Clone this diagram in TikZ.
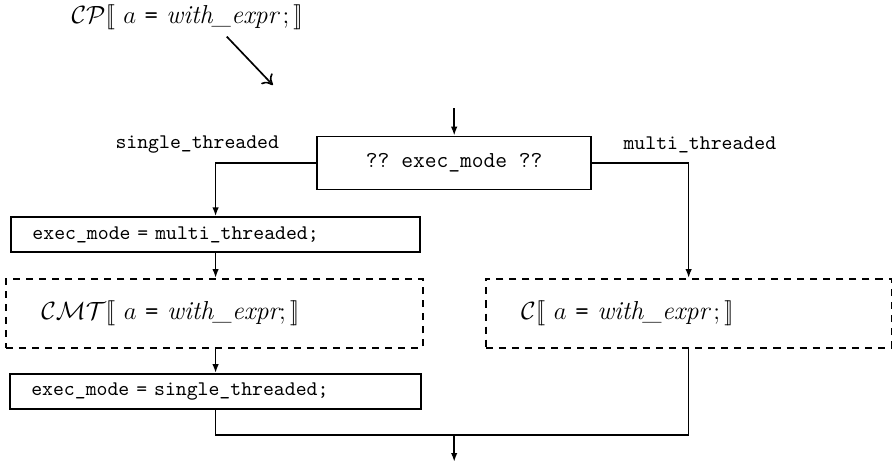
\documentclass[tikz,border=0pt]{standalone}
\usepackage{amsmath}
\usepackage{amssymb}
\usepackage{tikz}
\usetikzlibrary{arrows.meta, positioning, calc}
\frenchspacing

\begin{document}
\begin{tikzpicture}[
    flow/.style={thick, -{Latex[length=1.5mm, width=1.1mm]}},
    wire/.style={thick},
    stmt/.style={draw, thick, font=\ttfamily, align=left, inner xsep=0.36cm,
                 inner ysep=0pt, minimum height=0.59cm},
    body/.style={draw, thick, dash pattern=on 3.4pt off 2.9pt, align=left,
                 inner xsep=0.6cm, inner ysep=0pt, minimum height=1.17cm,
                 font=\fontsize{12.5}{14}\selectfont},
    branch/.style={font=\ttfamily}
  ]
      \useasboundingbox (0,0) rectangle (15.12,7.87);

      % Translation scheme
      \node[font=\fontsize{12.5}{14}\selectfont] (scheme) at (3.17,7.58)
           {$\mathcal{CP}[\![\ a\ \texttt{=}\ \textit{with\_expr}\,;]\!]$};
      \coordinate (schemefrom) at (3.84,7.25);
      \coordinate (schemeto) at (4.62,6.43);
      \draw[thick, -{To[length=1.6mm, width=2.6mm]}] (schemefrom) -- (schemeto);

      % Test of the mode
      \coordinate (entry) at (7.69,6.04);
      \node[draw, thick, minimum width=4.64cm, minimum height=0.90cm,
            font=\ttfamily\fontsize{11}{13}\selectfont]
           (test) at (7.69,5.11) {?? exec\_mode ??};
      \draw[flow] (entry) -- (test.north);

      \node[branch] (stlabel) at (3.34,5.42) {single\_threaded};
      \node[branch] (mtlabel) at (11.85,5.42) {multi\_threaded};

      % Single threaded branch
      \node[stmt, text width=6.20cm] (setmt) at (3.65,3.90)
           {exec\_mode = multi\_threaded;};
      \node[body, text width=5.86cm] (cmt) at (3.63,2.565)
           {$\mathcal{CMT}[\![\ a\ \texttt{=}\ \textit{with\_expr};]\!]$};
      \node[stmt, text width=6.24cm] (setst) at (3.65,1.245)
           {exec\_mode = single\_threaded;};

      % Multi threaded branch
      \node[body, text width=5.67cm] (plain) at (11.66,2.565)
           {$\mathcal{C}[\![\ a\ \texttt{=}\ \textit{with\_expr}\,;]\!]$};

      \coordinate (join) at (7.69,0.50);
      \coordinate (exit) at (7.69,0.05);

      % Connectors
      \draw[flow] (test.west) -| (setmt.north);
      \draw[flow] (test.east) -| (plain.north);
      \draw[flow] (setmt.south) -- (setmt.south |- cmt.north);
      \draw[flow] (cmt.south -| setmt.south) -- (setst.north);
      \draw[wire] (setst.south) |- (join);
      \draw[wire] (plain.south) |- (join);
      \draw[flow] (join) -- (exit);
    \end{tikzpicture}
\end{document}
